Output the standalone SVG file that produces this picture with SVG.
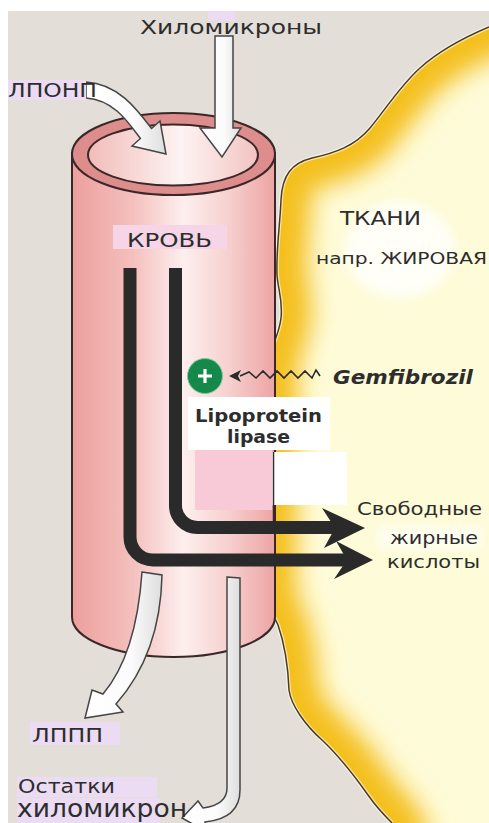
<svg xmlns="http://www.w3.org/2000/svg" width="489" height="823" viewBox="0 0 489 823">
  <style>
    .lbl { font-family: "DejaVu Sans", "Open Sans", sans-serif; fill: #2d2d2d; }
    .bold { font-weight: bold; }
    .hollow { fill: url(#arrowGrad); stroke: #454545; stroke-width: 1.5; stroke-linejoin: miter; }
    .flow { fill: none; stroke: #2a2a2a; stroke-width: 13; }
    .head { fill: #2a2a2a; }
    .edge { stroke: #3a2828; stroke-width: 2; }
    .tag { fill: #ebdcf3; }
  </style>
  <defs>
    <linearGradient id="bodyGrad" x1="72" y1="0" x2="275" y2="0" gradientUnits="userSpaceOnUse">
      <stop offset="0" stop-color="#ec9f9d"/>
      <stop offset="0.3" stop-color="#f4c0bd"/>
      <stop offset="0.55" stop-color="#fdefee"/>
      <stop offset="0.78" stop-color="#f6cfcd"/>
      <stop offset="1" stop-color="#eca4a3"/>
    </linearGradient>
    <linearGradient id="innerGrad" x1="88" y1="0" x2="258" y2="0" gradientUnits="userSpaceOnUse">
      <stop offset="0" stop-color="#f1bcb9"/>
      <stop offset="0.55" stop-color="#fdf4f3"/>
      <stop offset="1" stop-color="#f2c3c1"/>
    </linearGradient>
    <linearGradient id="arrowGrad" x1="0" y1="0" x2="1" y2="0">
      <stop offset="0" stop-color="#ffffff"/>
      <stop offset="0.6" stop-color="#fbfbfb"/>
      <stop offset="1" stop-color="#dedede"/>
    </linearGradient>
    <!-- tissue outline: the open rim curve, and the closed filled region -->
    <path id="tissueRim" d="M 489,27 C 470,35 440,50 420,68 C 400,86 385,110 370,128 C 355,146 335,153 312,158 C 292,163 282,175 281,200 C 280,225 276,250 277,275 C 278,290 283,300 281,318 C 279,335 272,345 268,360 L 266,600 L 278,625 C 285,645 288,665 289,690 C 291,705 305,725 322,740 C 340,757 356,778 368,795 C 377,808 386,817 392,823"/>
    <path id="tissueShape" d="M 489,27 C 470,35 440,50 420,68 C 400,86 385,110 370,128 C 355,146 335,153 312,158 C 292,163 282,175 281,200 C 280,225 276,250 277,275 C 278,290 283,300 281,318 C 279,335 272,345 268,360 L 266,600 L 278,625 C 285,645 288,665 289,690 C 291,705 305,725 322,740 C 340,757 356,778 368,795 C 377,808 386,817 392,823 L 489,823 Z"/>
    <path id="glowRim" d="M 520,12 L 489,27 C 470,35 440,50 420,68 C 400,86 385,110 370,128 C 355,146 335,153 312,158 C 292,163 282,175 281,200 C 280,225 276,250 277,275 C 278,290 283,300 281,318 C 279,335 272,345 268,360 L 266,600 L 278,625 C 285,645 288,665 289,690 C 291,705 305,725 322,740 C 340,757 356,778 368,795 C 377,808 386,817 392,823 L 405,850"/>
    <clipPath id="tissueClip"><use href="#tissueShape"/></clipPath>
    <filter id="glow" x="-30%" y="-30%" width="160%" height="160%"><feGaussianBlur stdDeviation="12"/></filter>
    <filter id="haze" x="-30%" y="-30%" width="160%" height="160%"><feGaussianBlur stdDeviation="6"/></filter>
  </defs>

  <!-- page and backdrop -->
  <rect x="0" y="0" width="489" height="823" fill="#ffffff"/>
  <rect x="8" y="11" width="481" height="812" fill="#e3ded8"/>

  <!-- adipose tissue -->
  <g id="tissue">
    <use href="#tissueShape" fill="#fefbd8"/>
    <g clip-path="url(#tissueClip)">
      <use href="#glowRim" fill="none" stroke="#f4bf1c" stroke-width="60" filter="url(#glow)"/>
      <ellipse cx="400" cy="250" rx="55" ry="48" fill="#ffffff" opacity="0.8" filter="url(#haze)"/>
      <rect x="378" y="527" width="104" height="21" fill="#ffffff" opacity="0.7" filter="url(#haze)"/>
    </g>
    <use href="#tissueRim" fill="none" stroke="#ffffff" stroke-width="4" opacity="0.6"/>
    <use href="#tissueRim" fill="none" stroke="#4d3b1e" stroke-width="1.5"/>
  </g>

  <!-- blood vessel -->
  <g id="vessel">
    <path d="M 72,153 L 72,617 A 101.5,40 0 0 0 275,617 L 275,153 Z" fill="url(#bodyGrad)" class="edge"/>
    <ellipse cx="173.5" cy="154" rx="101.5" ry="41" fill="#dc8d8c" class="edge"/>
    <ellipse cx="173" cy="155" rx="85" ry="30.5" fill="url(#innerGrad)" class="edge"/>
  </g>

  <!-- label patches -->
  <g id="patches">
    <rect x="188" y="397" width="142" height="53" fill="#ffffff"/>
    <rect x="195" y="450" width="77" height="60" fill="#f8c9d6"/>
    <rect x="272" y="452" width="75" height="53" fill="#ffffff"/>
    <line x1="273.5" y1="452" x2="273.5" y2="526" stroke="#3a2828" stroke-width="1.5"/>
  </g>

  <g id="connectors">
    <!-- inflow arrows -->
    <path id="arrow-vldl" class="hollow" d="M 86,82 C 118,84 136,108 151.6,128.5 L 160,121 L 166,154 L 132,146 L 140.4,138.5 C 128,122 114,100 86,98 Z"/>
    <path id="arrow-chylo" class="hollow" d="M 215,36 L 233,36 L 233,128 L 241,128 L 222,157 L 200,128 L 215,128 Z"/>

    <!-- fatty acid flows -->
    <path class="flow" d="M 175.5,268 L 175.5,505 A 22,22 0 0 0 197.5,527.5 L 336,527.5"/>
    <path class="head" d="M 322,508 L 365,528 L 324,548 L 335,528 Z"/>
    <path class="flow" d="M 130,268 L 130,537 A 23,23 0 0 0 153,560 L 348,560"/>
    <path class="head" d="M 336,541 L 373,560 L 334,579 L 347,560 Z"/>

    <!-- outflow arrows -->
    <path id="arrow-idl" class="hollow" d="M 142,572 L 162,575 C 161,625 146,670 116,704 L 123,712 L 85,718 L 92,690 L 103,694 C 125,668 138,630 142,572 Z"/>
    <path id="arrow-remnant" class="hollow" d="M 227,577 L 240,578 L 240,790 C 240,812 225,820 205,822 L 207,832 L 182,818 L 198,801 L 203,808 C 218,806 227,800 227,788 Z"/>

    <!-- drug action -->
    <path d="M 320,376 L 316,370 L 312,378 L 305,371 L 298,378 L 291,371 L 284,378 L 277,371 L 270,378 L 263,371 L 256,378 L 249,372 L 240,376" fill="none" stroke="#2a2a2a" stroke-width="1.6" stroke-linejoin="miter"/>
    <path d="M 229,376 L 241,370 L 238,376 L 241,382 Z" fill="#2a2a2a"/>
  </g>

  <g id="activator">
    <circle cx="205" cy="376" r="17.5" fill="#15894a" stroke="#7fc79c" stroke-width="1"/>
    <path d="M 205,369 L 205,383 M 198,376 L 212,376" stroke="#ffffff" stroke-width="3.2"/>
  </g>

  <!-- labels -->
  <g id="label-chylo">
    <rect x="208" y="11" width="27" height="10" class="tag"/>
    <text class="lbl" x="140" y="34" font-size="19" textLength="182" lengthAdjust="spacingAndGlyphs">Хиломикроны</text>
  </g>
  <g id="label-vldl">
    <rect x="8" y="80" width="78" height="20" class="tag"/>
    <text class="lbl" x="8" y="97" font-size="19" textLength="89" lengthAdjust="spacingAndGlyphs">ЛПОНП</text>
  </g>
  <g id="label-blood">
    <rect x="113" y="225" width="114" height="24" fill="#f6d6e6"/>
    <text class="lbl" x="127" y="247" font-size="19" textLength="85" lengthAdjust="spacingAndGlyphs">КРОВЬ</text>
  </g>
  <g id="label-tissue">
    <text class="lbl" x="340" y="225" font-size="19" textLength="81" lengthAdjust="spacingAndGlyphs">ТКАНИ</text>
    <text class="lbl" x="316" y="264" font-size="16.5" textLength="171" lengthAdjust="spacingAndGlyphs">напр. ЖИРОВАЯ</text>
  </g>
  <g id="label-drug">
    <text class="lbl bold" x="333" y="384" font-size="19" font-style="italic" textLength="140" lengthAdjust="spacingAndGlyphs">Gemfibrozil</text>
  </g>
  <g id="label-enzyme">
    <text class="lbl bold" x="195" y="422" font-size="18" textLength="127" lengthAdjust="spacingAndGlyphs">Lipoprotein</text>
    <text class="lbl bold" x="227" y="443" font-size="18" textLength="63" lengthAdjust="spacingAndGlyphs">lipase</text>
  </g>
  <g id="label-ffa">
    <text class="lbl" x="357" y="515" font-size="17" textLength="125" lengthAdjust="spacingAndGlyphs">Свободные</text>
    <text class="lbl" x="390" y="544" font-size="17" textLength="88" lengthAdjust="spacingAndGlyphs">жирные</text>
    <text class="lbl" x="387" y="568" font-size="17" textLength="93" lengthAdjust="spacingAndGlyphs">кислоты</text>
  </g>
  <g id="label-idl">
    <rect x="30" y="722" width="90" height="23" class="tag"/>
    <text class="lbl" x="32" y="742" font-size="20" textLength="71" lengthAdjust="spacingAndGlyphs">ЛППП</text>
  </g>
  <g id="label-remnant">
    <rect x="17" y="777" width="140" height="20" class="tag"/>
    <rect x="17" y="798" width="143" height="25" class="tag"/>
    <text class="lbl" x="18" y="793" font-size="19" textLength="97" lengthAdjust="spacingAndGlyphs">Остатки</text>
    <text class="lbl" x="17" y="817" font-size="24" textLength="170" lengthAdjust="spacingAndGlyphs">хиломикрон</text>
  </g>
</svg>
